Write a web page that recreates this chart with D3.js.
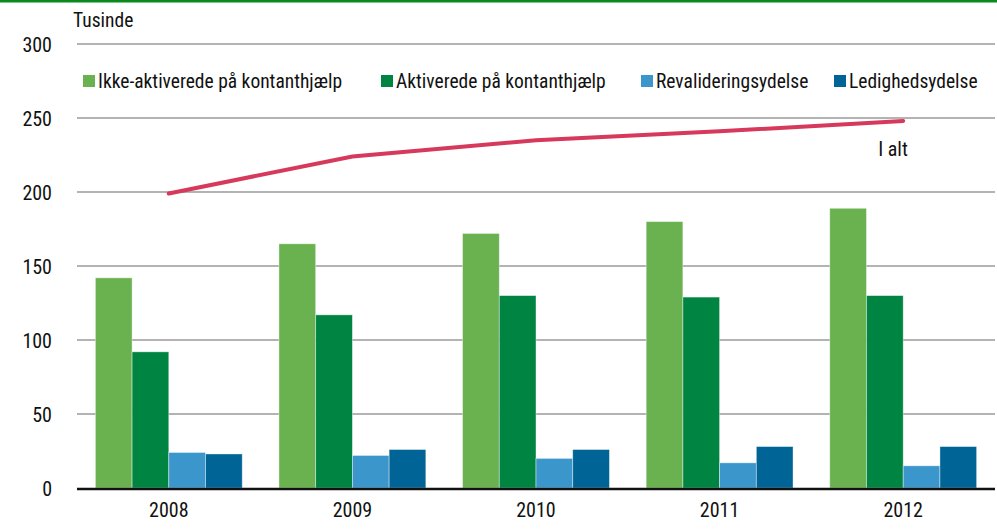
<!DOCTYPE html>
<html><head><meta charset="utf-8">
<script src="https://cdn.jsdelivr.net/npm/d3@7/dist/d3.min.js"></script>
<style>
body{margin:0;background:#fff;}
svg text{font-family:"Liberation Sans Narrow","Arial Narrow","Roboto Condensed","Liberation Sans",sans-serif;fill:#111;}
</style></head>
<body>
<svg id="c" width="997" height="529"></svg>
<script>
const years = ["2008","2009","2010","2011","2012"];
const seriesNames = ["Ikke-aktiverede på kontanthjælp","Aktiverede på kontanthjælp","Revalideringsydelse","Ledighedsydelse"];
const ikkeAktiverede = [142,165,172,180,189];
const aktiverede = [92,117,130,129,130];
const revalidering = [24,22,20,17,15];
const ledighed = [23,26,26,28,28];
const iAlt = [199,224,235,241,248];
const yTicks = [0,50,100,150,200,250,300];
const colors = ["#6ab150","#008441","#3a96cb","#006496"];
const lineColor = "#d6395c";

(function(){
const svg = d3.select("#c");
const W = 997, H = 529;
const pLeft = 77, pRight = 995, pTop = 44, pBottom = 488;

svg.append("rect").attr("x",0).attr("y",0).attr("width",W).attr("height",2.5).attr("fill","#0a8a1e");

const x = d3.scaleBand().domain(years).range([pLeft,pRight]).paddingInner(0.2).paddingOuter(0.1);
const x1 = d3.scaleBand().domain(d3.range(4)).range([0,x.bandwidth()]);
const y = d3.scaleLinear().domain([0,300]).range([pBottom,pTop]);

svg.append("g").selectAll("line").data(yTicks.filter(d=>d>0)).join("line")
  .attr("x1",pLeft).attr("x2",pRight).attr("y1",d=>y(d)).attr("y2",d=>y(d))
  .attr("stroke","#9a9a9a").attr("stroke-width",1.6);

const yAxis = d3.axisLeft(y).tickValues(yTicks).tickSize(0).tickPadding(0);
const ga = svg.append("g").attr("transform",`translate(52,0)`).call(yAxis);
ga.select(".domain").remove();
ga.selectAll("text").attr("font-size",20).attr("dy","0.35em").attr("font-family",null);

svg.append("text").attr("x",73).attr("y",27).attr("font-size",19.5).text("Tusinde");

const all = [ikkeAktiverede,aktiverede,revalidering,ledighed];
all.forEach((vals,si)=>{
  svg.append("g").selectAll("rect").data(vals).join("rect")
    .attr("x",(d,i)=>x(years[i])+x1(si))
    .attr("y",d=>y(d))
    .attr("width",x1.bandwidth())
    .attr("height",d=>y(0)-y(d))
    .attr("fill",colors[si])
    .attr("stroke","#ffffff").attr("stroke-opacity",0.5).attr("stroke-width",0.8);
});

svg.append("line").attr("x1",pLeft).attr("x2",pRight).attr("y1",y(0)+1).attr("y2",y(0)+1)
  .attr("stroke","#111").attr("stroke-width",2.5);

const xAxis = d3.axisBottom(x).tickSize(0).tickPadding(0);
const gx = svg.append("g").attr("transform",`translate(0,${pBottom+22})`).call(xAxis);
gx.select(".domain").remove();
gx.selectAll("text").attr("font-size",20).attr("font-family",null).attr("dy","0.35em");

const line = d3.line().x((d,i)=>x(years[i])+x.bandwidth()/2).y(d=>y(d));
svg.append("path").datum(iAlt).attr("d",line).attr("fill","none")
  .attr("stroke",lineColor).attr("stroke-width",4).attr("stroke-linecap","round");
svg.append("text").attr("x",x("2012")+x.bandwidth()/2-25).attr("y",y(iAlt[4])+35)
  .attr("font-size",20).text("I alt");

const legX = [83,381,641,834];
seriesNames.forEach((n,i)=>{
  svg.append("rect").attr("x",legX[i]).attr("y",75).attr("width",12).attr("height",12).attr("fill",colors[i]);
  svg.append("text").attr("x",legX[i]+15).attr("y",88).attr("font-size",19.5).text(n);
});
})();
</script>
</body></html>
